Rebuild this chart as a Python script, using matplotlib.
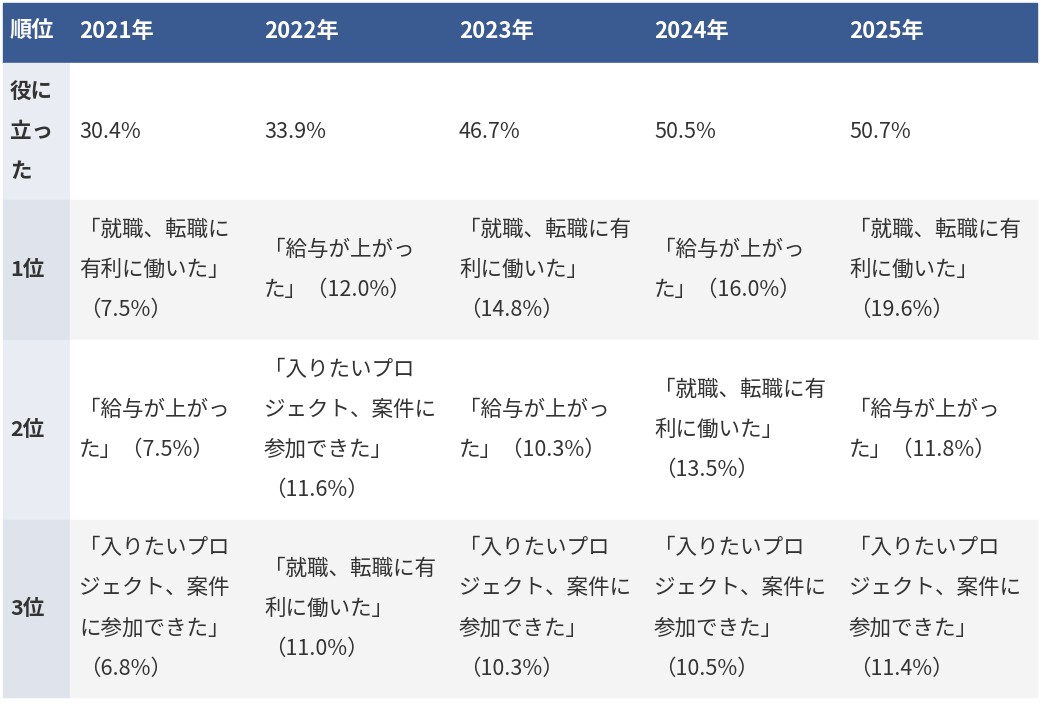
import matplotlib
matplotlib.use("Agg")
import matplotlib.pyplot as plt
from matplotlib.patches import Rectangle

plt.rcParams['font.family'] = ['Noto Sans CJK JP', 'DejaVu Sans']

years = ["2021年", "2022年", "2023年", "2024年", "2025年"]
row_heads = ["役に\n立っ\nた", "1位", "2位", "3位"]
useful_pct = [30.4, 33.9, 46.7, 50.5, 50.7]

# 各順位の回答（表示上の改行込み）と割合
rank1_text = ["「就職、転職に\n有利に働いた」", "「給与が上がっ\nた」", "「就職、転職に有\n利に働いた」",
              "「給与が上がっ\nた」", "「就職、転職に有\n利に働いた」"]
rank1_pct = [7.5, 12.0, 14.8, 16.0, 19.6]
rank2_text = ["「給与が上がっ\nた」", "「入りたいプロ\nジェクト、案件に\n参加できた」", "「給与が上がっ\nた」",
              "「就職、転職に有\n利に働いた」", "「給与が上がっ\nた」"]
rank2_pct = [7.5, 11.6, 10.3, 13.5, 11.8]
rank3_text = ["「入りたいプロ\nジェクト、案件\nに参加できた」", "「就職、転職に有\n利に働いた」",
              "「入りたいプロ\nジェクト、案件に\n参加できた」", "「入りたいプロ\nジェクト、案件に\n参加できた」",
              "「入りたいプロ\nジェクト、案件に\n参加できた」"]
rank3_pct = [6.8, 11.0, 10.3, 10.5, 11.4]


def cell(txt, pct):
    if txt.split("\n")[-1] == "た」":
        return txt + "（%.1f%%）" % pct
    return txt + "\n（%.1f%%）" % pct


rows = [["%.1f%%" % v for v in useful_pct],
        [cell(t, p) for t, p in zip(rank1_text, rank1_pct)],
        [cell(t, p) for t, p in zip(rank2_text, rank2_pct)],
        [cell(t, p) for t, p in zip(rank3_text, rank3_pct)]]

W, H = 1041, 704
fig = plt.figure(figsize=(W / 100, H / 100), dpi=100)
ax = fig.add_axes([0, 0, 1, 1])
ax.set_xlim(0, W)
ax.set_ylim(H, 0)
ax.axis('off')

col_x = [3, 70, 255, 450, 645, 840, 1037]
row_y = [3, 63, 200, 340, 520, 697]
fs = 15.5
lh = 40

# header
ax.add_patch(Rectangle((col_x[0], row_y[0]), col_x[-1] - col_x[0], row_y[1] - row_y[0], color='#3a5a92'))
ax.text(10, 31, "順位", color='white', fontsize=16, fontweight='bold', va='center')
for i, y in enumerate(years):
    ax.text(col_x[i + 1] + 9, 31, y, color='white', fontsize=16, fontweight='bold', va='center')

for r in range(4):
    y0, y1 = row_y[r + 1], row_y[r + 2]
    bg = '#ffffff' if r % 2 == 0 else '#f4f4f4'
    hbg = '#e9ecf3' if r % 2 == 0 else '#dfe3ec'
    ax.add_patch(Rectangle((col_x[0], y0), col_x[1] - col_x[0], y1 - y0, color=hbg))
    ax.add_patch(Rectangle((col_x[1], y0), col_x[-1] - col_x[1], y1 - y0, color=bg))
    yc = (y0 + y1) / 2
    lines = row_heads[r].split("\n")
    for k, ln in enumerate(lines):
        ax.text(10, yc + (k - (len(lines) - 1) / 2) * lh, ln, color='#333333',
                fontsize=fs, fontweight='bold', va='center')
    for c in range(5):
        lines = rows[r][c].split("\n")
        for k, ln in enumerate(lines):
            ax.text(col_x[c + 1] + 9, yc + (k - (len(lines) - 1) / 2) * lh, ln,
                    color='#333333', fontsize=fs, va='center')

fig.savefig("out.png", dpi=100)
